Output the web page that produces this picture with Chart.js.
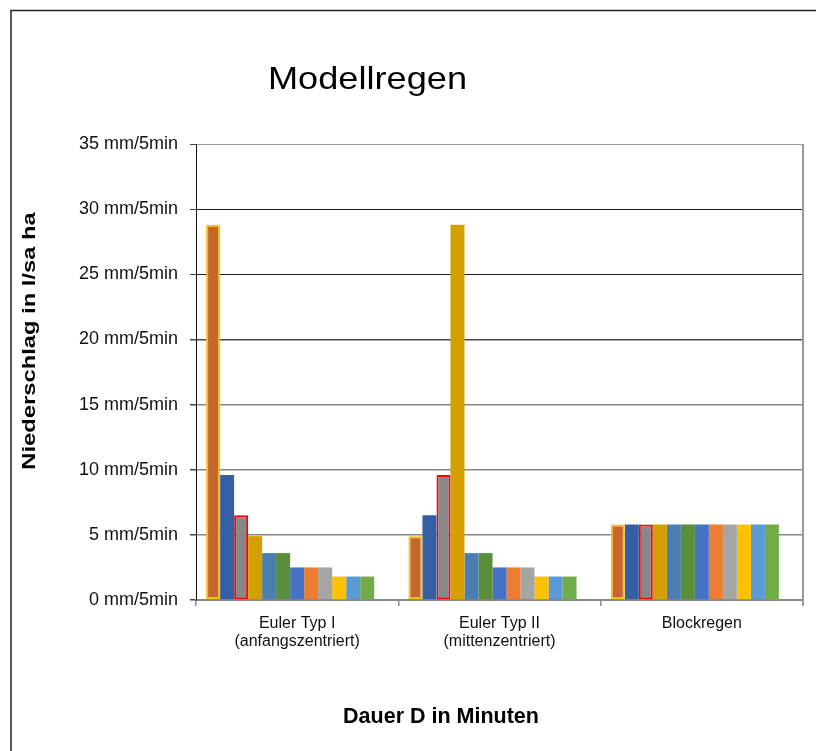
<!DOCTYPE html>
<html lang="de">
<head>
<meta charset="utf-8">
<title>Modellregen</title>
<script src="https://cdn.jsdelivr.net/npm/chart.js@4.4.1/dist/chart.umd.min.js"></script>
<style>
  html, body { margin: 0; padding: 0; background: #fff; }
  #wrap { position: relative; width: 816px; height: 751px; }
</style>
</head>
<body>
<div id="wrap"><canvas id="chart"></canvas></div>
<script>
// Daten
const kategorien = [['Euler Typ I', '(anfangszentriert)'], ['Euler Typ II', '(mittenzentriert)'], 'Blockregen'];
const intervalle = ['0-5 min', '5-10 min', '10-15 min', '15-20 min', '20-25 min', '25-30 min',
                    '30-35 min', '35-40 min', '40-45 min', '45-50 min', '50-55 min', '55-60 min'];
const eulerTyp1  = [28.8, 9.6, 6.5, 4.9, 3.6, 3.6, 2.5, 2.5, 2.5, 1.8, 1.8, 1.8];
const eulerTyp2  = [4.9, 6.5, 9.6, 28.8, 3.6, 3.6, 2.5, 2.5, 2.5, 1.8, 1.8, 1.8];
const blockregen = [5.8, 5.8, 5.8, 5.8, 5.8, 5.8, 5.8, 5.8, 5.8, 5.8, 5.8, 5.8];
const yMax = 35;
const yStep = 5;
const yEinheit = ' mm/5min';

// Farben der Reihen
const fuellFarben = ['#c5662a', '#355fa4', '#878787', '#d49f00', '#4a7eb1', '#5a8e3a',
                     '#4472c4', '#ed7d31', '#a5a5a5', '#ffc000', '#5b9bd5', '#70ad47'];
const rahmenFarben = ['#ffc000', null, '#ff0000'];

Chart.defaults.font.family = "'Liberation Sans', Arial, sans-serif";
Chart.defaults.color = '#111';

function gitterFarbe(ctx) {
    const v = ctx.tick ? ctx.tick.value : 0;
    if (v === 35) return '#9a9a9a';
    if (v >= 25) return '#1e1e1e';
    if (v === 20) return '#4a4a4a';
    return '#868686';
}

function gitterBreite(ctx) {
    const v = ctx.tick ? ctx.tick.value : 0;
    return v >= 25 ? 1 : 1.5;
}

function gestreckterText(ctx, text, x, y, font, sx, winkel) {
    ctx.save();
    ctx.translate(x, y);
    ctx.rotate(winkel);
    ctx.scale(sx, 1);
    ctx.font = font;
    ctx.fillStyle = '#000';
    ctx.textAlign = 'center';
    ctx.textBaseline = 'alphabetic';
    ctx.fillText(text, 0, 0);
    ctx.restore();
}

const rahmenPlugin = {
    id: 'rahmen',
    afterDraw(chart) {
        const { ctx, chartArea } = chart;
        ctx.save();
        // äußerer Rahmen (links + oben)
        ctx.strokeStyle = '#222';
        ctx.lineWidth = 1.5;
        ctx.beginPath();
        ctx.moveTo(11, 751);
        ctx.lineTo(11, 10.5);
        ctx.lineTo(816, 10.5);
        ctx.stroke();
        // rechte Begrenzung der Zeichenfläche
        ctx.strokeStyle = '#999';
        ctx.lineWidth = 2;
        ctx.beginPath();
        ctx.moveTo(chartArea.right, chartArea.top);
        ctx.lineTo(chartArea.right, chartArea.bottom + 6);
        ctx.stroke();
        ctx.restore();

        const fam = "'Liberation Sans', Arial, sans-serif";
        gestreckterText(ctx, 'Modellregen', 367.5, 89, '32px ' + fam, 1.13, 0);
        gestreckterText(ctx, 'Niederschlag in l/sa ha', 35, 341, 'bold 18px ' + fam, 1.32, -Math.PI / 2);
        gestreckterText(ctx, 'Dauer D in Minuten', 441, 722.5, 'bold 21.5px ' + fam, 1, 0);
    }
};

const datasets = intervalle.map((name, i) => ({
    label: name,
    data: [eulerTyp1[i], eulerTyp2[i], blockregen[i]],
    backgroundColor: fuellFarben[i],
    borderColor: rahmenFarben[i] || fuellFarben[i],
    borderWidth: rahmenFarben[i] ? 2 : 0,
    borderSkipped: false
}));
// leere Reihe wie im Original (Platz rechts in jeder Gruppe)
datasets.push({ label: '', data: [null, null, null], backgroundColor: 'rgba(0,0,0,0)' });

new Chart(document.getElementById('chart'), {
    type: 'bar',
    data: { labels: kategorien, datasets: datasets },
    options: {
        responsive: true,
        maintainAspectRatio: false,
        animation: false,
        categoryPercentage: 0.9,
        barPercentage: 1,
        layout: { padding: { top: 144, right: 13, left: 0, bottom: 0 } },
        plugins: {
            legend: { display: false },
            tooltip: { enabled: false }
        },
        scales: {
            x: {
                afterFit: s => { s.height = 151; },
                grid: { drawOnChartArea: false, tickLength: 6, color: '#888', lineWidth: 1.5 },
                border: { color: '#888', width: 2 },
                ticks: { font: { size: 16, lineHeight: 1.17 }, color: '#111', padding: 8 }
            },
            y: {
                min: 0,
                max: yMax,
                afterFit: s => { s.width = 196; },
                grid: { color: gitterFarbe, lineWidth: gitterBreite, tickLength: 6, tickColor: '#444' },
                border: { color: '#111', width: 1 },
                ticks: {
                    stepSize: yStep,
                    padding: 12,
                    color: '#111',
                    font: { size: 18 },
                    callback: v => v + yEinheit
                }
            }
        }
    },
    plugins: [rahmenPlugin]
});
</script>
</body>
</html>
